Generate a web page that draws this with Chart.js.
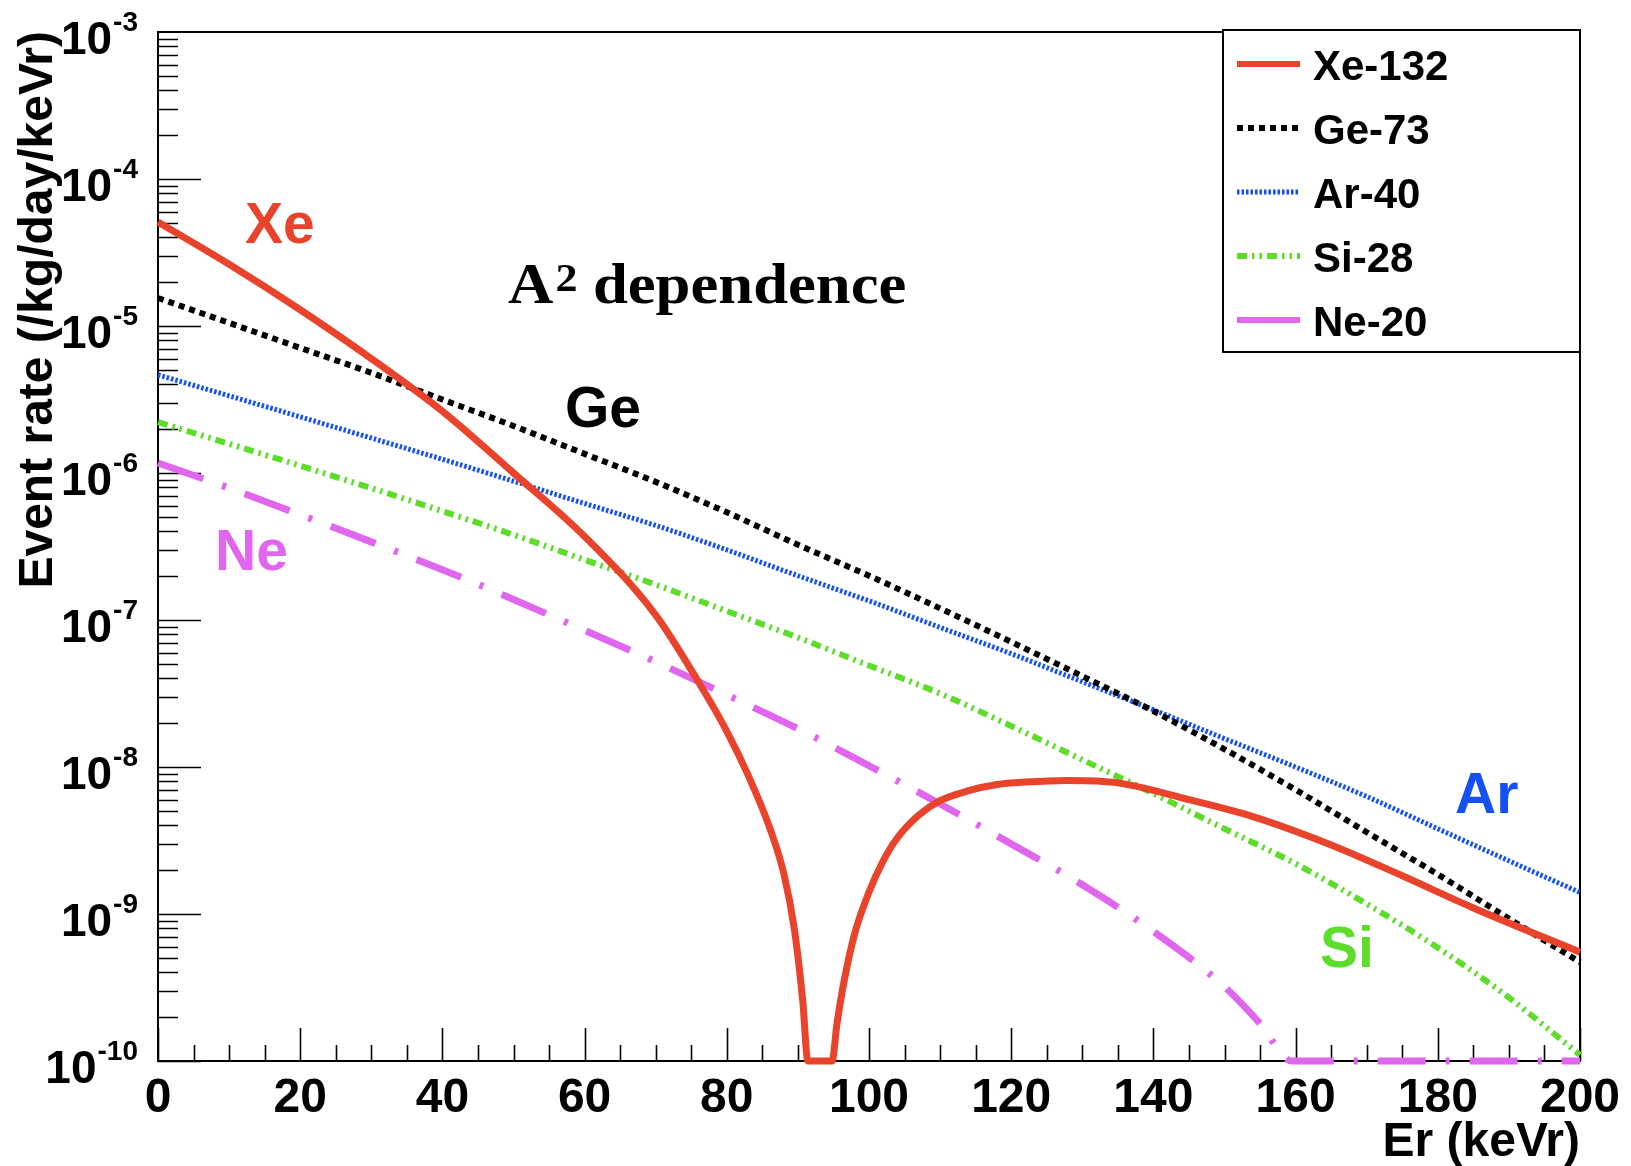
<!DOCTYPE html>
<html>
<head>
<meta charset="utf-8">
<title>Event rate vs recoil energy</title>
<script src="https://cdn.jsdelivr.net/npm/chart.js@4.4.1/dist/chart.umd.min.js"></script>
<style>
  html, body { margin: 0; padding: 0; background: #fff; }
  #wrap { width: 1631px; height: 1166px; }
</style>
</head>
<body>
<div id="wrap"><canvas id="chart" width="1631" height="1166"></canvas></div>
<script>
// recoil energy grid (keVr) shared by Ge, Ar and Si
const energyGrid = [0, 10, 20, 30, 40, 50, 60, 70, 80, 90, 100, 110, 120, 130, 140, 150, 160, 170, 180, 190, 200];

// event rates in /kg/day/keVr
const geRate = [1.55e-5, 1.05e-5, 7.1e-6, 4.8e-6, 3.16e-6, 2.09e-6, 1.35e-6, 8.7e-7, 5.4e-7, 3.25e-7, 2.0e-7,
                1.2e-7, 7.1e-8, 4.15e-8, 2.4e-8, 1.32e-8, 7.0e-9, 3.6e-9, 1.86e-9, 9.3e-10, 4.7e-10];
const arRate = [4.65e-6, 3.35e-6, 2.41e-6, 1.73e-6, 1.24e-6, 8.8e-7, 6.2e-7, 4.4e-7, 3.0e-7, 2.0e-7, 1.35e-7,
                8.9e-8, 5.9e-8, 3.8e-8, 2.45e-8, 1.56e-8, 1.0e-8, 6.3e-9, 3.8e-9, 2.3e-9, 1.4e-9];
const siRate = [2.22e-6, 1.58e-6, 1.12e-6, 7.9e-7, 5.5e-7, 3.8e-7, 2.57e-7, 1.74e-7, 1.15e-7, 7.6e-8, 4.9e-8,
                3.16e-8, 1.9e-8, 1.12e-8, 6.6e-9, 3.8e-9, 2.2e-9, 1.17e-9, 5.9e-10, 2.7e-10, 1.1e-10];

// Xe has its form-factor zero near 93 keVr, sampled finer there (clamped at the axis minimum)
const xeEnergy = [0, 10, 20, 30, 40, 50, 60, 70, 76, 80, 83, 86, 88, 89.5, 90.7, 91.4, 94.8, 95.5, 96.5, 98,
                  100, 102, 104, 107, 110, 114, 118, 122, 128, 135, 145, 154, 165, 175, 185, 200];
const xeRate = [5.1e-5, 2.63e-5, 1.29e-5, 6.0e-6, 2.63e-6, 1.0e-6, 3.7e-7, 1.08e-7, 3.8e-8, 1.75e-8, 8.8e-9,
                3.9e-9, 1.9e-9, 7.9e-10, 2.5e-10, 1e-10, 1e-10, 1.8e-10, 3.5e-10, 7.4e-10,
                1.41e-9, 2.3e-9, 3.3e-9, 4.7e-9, 5.9e-9, 6.9e-9, 7.6e-9, 7.9e-9, 8.1e-9, 7.8e-9, 6.0e-9,
                4.6e-9, 2.95e-9, 1.82e-9, 1.1e-9, 5.5e-10];

// Ne drops below the plotted range at ~160 keVr and sits on the axis after that
const neEnergy = [0, 10, 20, 30, 40, 50, 60, 70, 80, 90, 100, 110, 120, 130, 140, 150, 155, 159.5, 170, 180, 190, 200];
const neRate = [1.17e-6, 7.9e-7, 5.2e-7, 3.4e-7, 2.2e-7, 1.38e-7, 8.5e-8, 5.2e-8, 3.1e-8, 1.82e-8, 1.02e-8,
                5.6e-9, 3.0e-9, 1.58e-9, 7.6e-10, 3.2e-10, 1.8e-10, 1e-10, 1e-10, 1e-10, 1e-10, 1e-10];

const seriesLabels = ['Xe-132', 'Ge-73', 'Ar-40', 'Si-28', 'Ne-20'];
const curveTags = ['Xe', 'Ge', 'Ar', 'Si', 'Ne'];
const yTickExponents = [-3, -4, -5, -6, -7, -8, -9, -10];
const xTickLabels = [0, 20, 40, 60, 80, 100, 120, 140, 160, 180, 200];

const COLORS = {
  xe: '#ea432b',
  ge: '#000000',
  ar: '#1450f5',
  si: '#5edc2a',
  ne: '#e066ef'
};
const SANS = '"Liberation Sans", Arial, Helvetica, sans-serif';
const SERIF = '"Liberation Serif", "Times New Roman", serif';

function pts(xs, ys) {
  return xs.map((e, i) => ({ x: e, y: ys[i] }));
}

// ROOT-like frame: box, inward ticks, 10^n labels, axis titles
const frame = {
  id: 'frame',
  beforeDatasetsDraw(chart) {
    const { ctx, chartArea: a, scales: { x, y } } = chart;
    ctx.save();
    ctx.strokeStyle = '#000';
    ctx.lineWidth = 2;
    ctx.strokeRect(a.left, a.top, a.right - a.left, a.bottom - a.top);

    ctx.lineWidth = 1.6;
    ctx.beginPath();
    for (let p = -10; p < -3; p++) {
      for (let m = 1; m <= 9; m++) {
        const py = Math.round(y.getPixelForValue(m * Math.pow(10, p))) + 0.5;
        const len = m === 1 ? 43 : 20;
        ctx.moveTo(a.left, py);
        ctx.lineTo(a.left + len, py);
      }
    }
    for (let e = 0; e <= 200; e += 5) {
      const px = Math.round(x.getPixelForValue(e)) + 0.5;
      const len = e % 20 === 0 ? 33 : 16;
      ctx.moveTo(px, a.bottom);
      ctx.lineTo(px, a.bottom - len);
    }
    ctx.stroke();

    ctx.fillStyle = '#000';
    ctx.textBaseline = 'alphabetic';
    const labRight = a.left - 20;
    yTickExponents.forEach(p => {
      const py = y.getPixelForValue(Math.pow(10, p));
      ctx.font = 'bold 28px ' + SANS;
      const exp = String(p);
      const ew = ctx.measureText(exp).width;
      ctx.textAlign = 'left';
      ctx.fillText(exp, labRight - ew, py - 1);
      ctx.font = 'bold 46px ' + SANS;
      ctx.textAlign = 'right';
      ctx.fillText('10', labRight - ew - 1, py + 22);
    });

    ctx.font = 'bold 48px ' + SANS;
    ctx.textAlign = 'center';
    xTickLabels.forEach(v => {
      ctx.fillText(String(v), x.getPixelForValue(v), a.bottom + 51);
    });

    ctx.textAlign = 'right';
    ctx.fillText('Er (keVr)', a.right, a.bottom + 95);

    ctx.save();
    ctx.translate(39, a.top - 1);
    ctx.rotate(-Math.PI / 2);
    ctx.font = 'bold 48px ' + SANS;
    ctx.textAlign = 'right';
    ctx.textBaseline = 'middle';
    ctx.fillText('Event rate (/kg/day/keVr)', 0, 0);
    ctx.restore();
    ctx.restore();
  },
  afterDatasetsDraw(chart) {
    const { ctx, chartArea: a } = chart;
    const sets = chart.data.datasets;
    ctx.save();

    // legend box in the upper right corner
    const box = { left: 1223, top: a.top - 2, right: a.right, bottom: 352 };
    ctx.fillStyle = '#fff';
    ctx.fillRect(box.left, box.top, box.right - box.left, box.bottom - box.top);
    ctx.strokeStyle = '#000';
    ctx.lineWidth = 2;
    ctx.strokeRect(box.left, box.top, box.right - box.left, box.bottom - box.top);
    ctx.font = 'bold 42px ' + SANS;
    ctx.textAlign = 'left';
    ctx.textBaseline = 'alphabetic';
    sets.forEach((ds, i) => {
      const cy = 64 + i * 64;
      ctx.save();
      ctx.strokeStyle = ds.borderColor;
      ctx.lineWidth = Math.min(ds.borderWidth, 6);
      ctx.setLineDash(ds.legendDash || ds.borderDash || []);
      ctx.beginPath();
      ctx.moveTo(1237, cy);
      ctx.lineTo(1300, cy);
      ctx.stroke();
      ctx.restore();
      ctx.fillStyle = '#000';
      ctx.fillText(ds.label, 1313, cy + 16);
    });

    // element tags next to each curve
    ctx.font = 'bold 57px ' + SANS;
    const tagPos = [[245, 243], [565, 427], [1455, 813], [1320, 967], [215, 570]];
    curveTags.forEach((t, i) => {
      ctx.fillStyle = sets[i].borderColor;
      ctx.fillText(t, tagPos[i][0], tagPos[i][1]);
    });

    // A^2 dependence note (Times bold, slightly wide)
    ctx.save();
    ctx.translate(508, 303);
    ctx.scale(1.1, 1);
    ctx.fillStyle = '#000';
    ctx.font = 'bold 57px ' + SERIF;
    let tx = 0;
    ctx.fillText('A', tx, 0);
    tx += ctx.measureText('A').width + 2;
    ctx.font = 'bold 40px ' + SERIF;
    ctx.fillText('2', tx, -12);
    tx += ctx.measureText('2').width + 14;
    ctx.font = 'bold 57px ' + SERIF;
    ctx.fillText('dependence', tx, 0);
    ctx.restore();
    ctx.restore();
  }
};

const common = { pointRadius: 0, fill: false, cubicInterpolationMode: 'monotone', clip: false, borderCapStyle: 'butt' };

new Chart(document.getElementById('chart').getContext('2d'), {
  type: 'line',
  data: {
    datasets: [
      { ...common, label: seriesLabels[0], data: pts(xeEnergy, xeRate), borderColor: COLORS.xe, borderWidth: 7 },
      { ...common, label: seriesLabels[1], data: pts(energyGrid, geRate), borderColor: COLORS.ge, borderWidth: 6, borderDash: [6, 5] },
      { ...common, label: seriesLabels[2], data: pts(energyGrid, arRate), borderColor: COLORS.ar, borderWidth: 5, borderDash: [2.5, 2] },
      { ...common, label: seriesLabels[3], data: pts(energyGrid, siRate), borderColor: COLORS.si, borderWidth: 6, borderDash: [10, 5, 2.5, 5, 2.5, 5] },
      { ...common, label: seriesLabels[4], data: pts(neEnergy, neRate), borderColor: COLORS.ne, borderWidth: 7, borderDash: [48, 20, 4, 20], legendDash: [] }
    ]
  },
  options: {
    responsive: false,
    animation: false,
    devicePixelRatio: 1,
    layout: { padding: { left: 158, top: 32, right: 51, bottom: 105 } },
    scales: {
      x: { type: 'linear', min: 0, max: 200, display: false },
      y: { type: 'logarithmic', min: 1e-10, max: 1e-3, display: false }
    },
    plugins: {
      legend: { display: false },
      tooltip: { enabled: false }
    }
  },
  plugins: [frame]
});
</script>
</body>
</html>
